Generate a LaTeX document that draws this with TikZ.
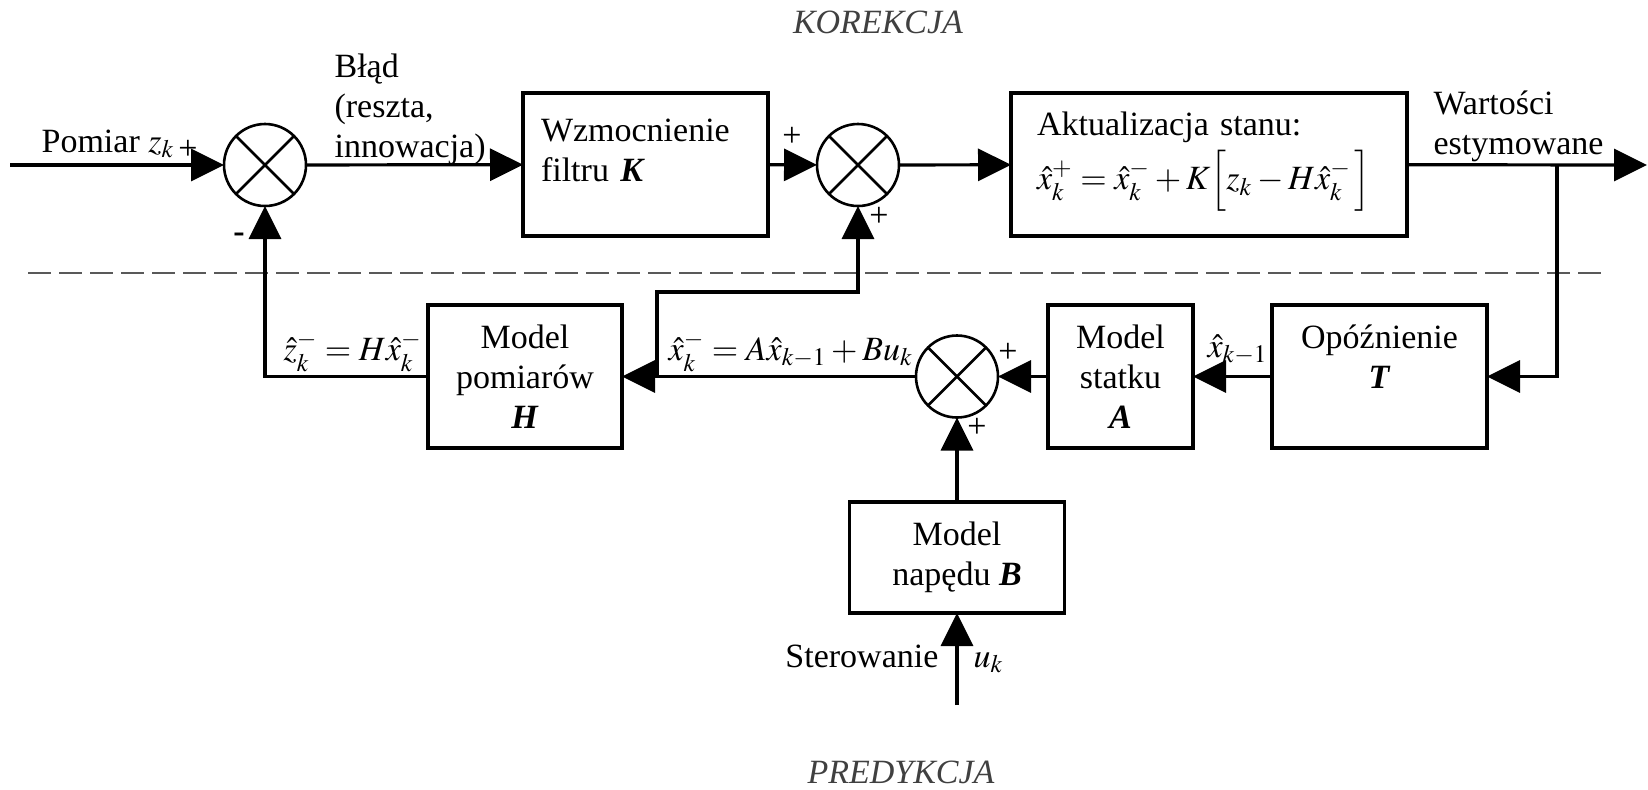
\documentclass[tikz,border=0pt]{standalone}
\usepackage{mathptmx}
\usepackage{fontspec}
\setmainfont{Liberation Serif}
\usepackage{tikz}
\usetikzlibrary{arrows.meta}
\newcommand{\diagfont}{\fontsize{17pt}{20pt}\selectfont}
\newcommand{\bi}[1]{\textbf{\textit{#1}}}
\tikzstyle{block}=[rectangle, draw, line width=1.6pt, minimum height=71.5pt, inner sep=0pt, outer sep=0pt, align=center, font=\diagfont]
\tikzstyle{summer}=[circle, draw, line width=1.3pt, minimum size=41pt, inner sep=0pt, outer sep=0pt,
  path picture={\draw[line width=1.3pt] (path picture bounding box.north west) -- (path picture bounding box.south east)
                                        (path picture bounding box.north east) -- (path picture bounding box.south west);}]
\tikzstyle{lbl}=[inner sep=0pt, font=\diagfont]
\tikzstyle{sign}=[inner sep=0pt, font=\diagfont]
\tikzstyle{region}=[inner sep=0pt, font=\diagfont\itshape, text=black!75]
\tikzstyle{divider}=[draw=black!65, line width=1.1pt, dash pattern=on 11.5pt off 4pt]

\begin{document}
\begin{tikzpicture}[x=0.5pt, y=-0.5pt, line width=1.6pt, >={Triangle[length=16.5pt, width=16pt]}]
\useasboundingbox (0,0) rectangle (1648,789);
% korekcja
\node[region, anchor=base] (kor) at (878,33) {KOREKCJA};
\coordinate (in) at (10,165);
\node[summer] (sum1) at (265,165) {};
\node[block, minimum width=122.5pt, text width=104.5pt, align=left] (gain) at (645.5,164.5) {Wzmocnienie\\filtru \bi{K}\\[-6pt]\mbox{}};
\node[summer] (sum2) at (858,165) {};
\node[block, minimum width=198pt, text width=172pt, align=left] (upd) at (1209,164.5)
  {Aktualizacja stanu:\\[3pt]$\hat{x}_k^+ = \hat{x}_k^- + K\Big[z_k - H\hat{x}_k^-\,\Big]$\\[-6pt]\mbox{}};
\coordinate (branch) at (1557,165);
\coordinate (out) at (1647,165);
\draw[->] (in) -- (sum1);
\draw[->] (sum1) -- (gain);
\draw[->] (gain) -- (sum2);
\draw[->] (sum2) -- (upd);
\draw[->] (upd) -- (out);
\node[lbl, anchor=base west] (zlab) at (40,152) {Pomiar $z_k$};
\node[sign] (p1) at (188,150) {+};
\node[sign] (m1) at (239,238) {\textbf{-}};
\node[lbl, anchor=north west, align=left] (err) at (333,52) {Błąd\\(reszta,\\innowacja)};
\node[sign] (p2) at (792,137) {+};
\node[sign] (p3) at (879,217) {+};
\node[lbl, anchor=north west, align=left] (est) at (1432,89) {Wartości\\estymowane};

\draw[divider] (28,273) -- (1605,273);

% predykcja
\node[block, minimum width=107.5pt] (delay) at (1379.5,376.5) {Opóźnienie\\\bi{T}\\\mbox{}};
\node[block, minimum width=72.5pt] (ship) at (1120.5,376.5) {Model\\statku\\\bi{A}};
\node[summer] (sum3) at (957,376.5) {};
\node[block, minimum width=97pt] (meas) at (525,376.5) {Model\\pomiarów\\\bi{H}};
\node[block, minimum width=107.5pt, minimum height=55.5pt] (drive) at (957,557.5) {Model\\napędu \bi{B}};
\coordinate (tap) at (657,376.5);
\coordinate (bend) at (657,292);
\coordinate (uin) at (957,705);
\draw[->] (branch) |- (delay);
\draw[->] (delay) -- (ship);
\draw[->] (ship) -- (sum3);
\draw[->] (sum3) -- (meas);
\draw[->] (drive) -- (sum3);
\draw[->] (uin) -- (drive);
\draw[->] (tap) -- (bend) -| (sum2);
\draw[->] (meas) -| (sum1);
\node[sign] (p4) at (1008,353) {+};
\node[sign] (p5) at (977,428) {+};
\node[lbl, anchor=base west] (zpred) at (282,360) {$\hat{z}_k^- = H\hat{x}_k^-$};
\node[lbl, anchor=base west] (xpred) at (667,360) {$\hat{x}_k^- = A\hat{x}_{k-1} + Bu_k$};
\node[lbl, anchor=base west] (xprev) at (1206,357) {$\hat{x}_{k-1}$};
\node[lbl, anchor=base east] (ster) at (940,667) {Sterowanie};
\node[lbl, anchor=base west] (ulab) at (972,667) {$u_k$};
\node[region, anchor=base] (pred) at (901,783) {PREDYKCJA};
\end{tikzpicture}
\end{document}
